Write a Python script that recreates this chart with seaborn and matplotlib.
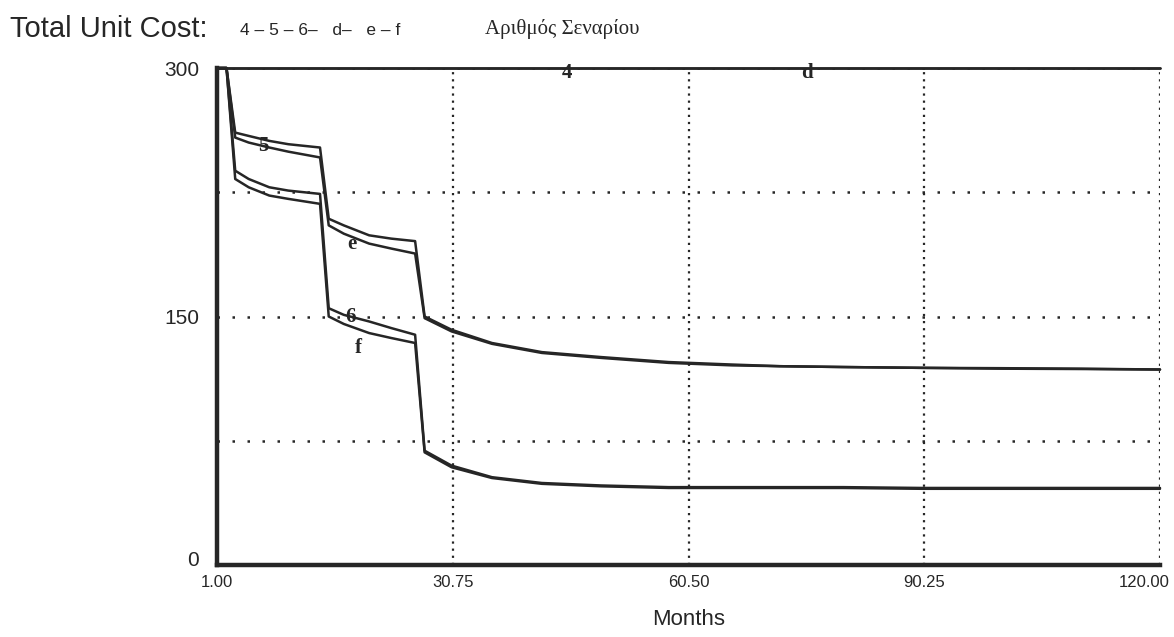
import numpy as np
import pandas as pd
import matplotlib
matplotlib.use("Agg")
import matplotlib.pyplot as plt
import matplotlib.transforms as mtransforms
import seaborn as sns

# ---- data ----
months = [1, 2.2, 3.3, 5, 7.6, 10, 14.0, 15.1, 17, 20.2, 23, 26.0, 27.2, 30.6,
          35.7, 42, 47, 49.5, 58, 66, 72, 80, 90, 100, 110, 120]

s4 = [300] * len(months)
sd = [300] * len(months)
s5 = [300, 300, 261, 259, 256, 254, 252, 209, 205, 199, 197, 195.5, 150, 142,
      134, 128.5, 126.5, 125.5, 122.5, 121, 120, 119.5, 119, 118.8, 118.5, 118]
se = [300, 300, 258, 255, 252, 249.5, 246, 205, 200, 194, 191, 188, 149, 141,
      133.5, 128, 126, 125, 122, 120.5, 120, 119.5, 119, 118.5, 118.3, 118]
s6 = [300, 300, 238, 233, 228, 226, 224, 155, 151, 147, 143, 139, 69, 60,
      53, 49.5, 48.5, 48, 47, 47, 47, 47, 46.5, 46.5, 46.5, 46.5]
sf = [300, 300, 233, 228, 223, 221, 218, 150, 145.5, 140, 137, 134, 68, 59,
      52.5, 49, 48, 47.5, 46.5, 46.5, 46.5, 46.5, 46, 46, 46, 46]

scenarios = ["4", "5", "6", "d", "e", "f"]
series = {"4": s4, "5": s5, "6": s6, "d": sd, "e": se, "f": sf}

x_ticks = [1.00, 30.75, 60.50, 90.25, 120.00]
x_tick_labels = ["1.00", "30.75", "60.50", "90.25", "120.00"]
y_ticks = [0, 75, 150, 225, 300]
y_tick_labels = ["0", "", "150", "", "300"]

# line label positions (month, value) as seen on the chart
line_labels = {"4": (45.1, 297), "d": (75.4, 297), "5": (6.9, 253),
               "e": (18.0, 194), "6": (17.8, 150), "f": (18.8, 131)}

rows = []
for s in scenarios:
    for m, v in zip(months, series[s]):
        rows.append({"Month": m, "Cost": v, "Scenario": s})
df = pd.DataFrame(rows)

# ---- style ----
sns.set_style("white")
plt.rcParams["font.family"] = ["Liberation Sans", "DejaVu Sans"]
ink = "#262626"

fig = plt.figure(figsize=(11.74, 6.37), dpi=100)
W, H = 1174, 637
ax = fig.add_axes([217 / W, 1 - 565 / H, (1160 - 217) / W, (565 - 68) / H])

sns.lineplot(data=df, x="Month", y="Cost", hue="Scenario",
             palette={s: ink for s in scenarios}, legend=False,
             estimator=None, sort=False, linewidth=1.8, ax=ax)
for ln in ax.lines:
    ln.set_clip_on(False)
    ln.set_zorder(3)

ax.set_xlim(1, 120)
ax.set_ylim(0, 300)
ax.set_xticks(x_ticks)
ax.set_xticklabels(x_tick_labels, fontsize=12, color=ink)
ax.set_yticks(y_ticks)
ax.set_yticklabels(y_tick_labels, fontsize=15, color=ink)
ax.tick_params(axis="y", direction="out", length=4, width=3, color=ink, pad=9)
ax.tick_params(axis="x", direction="out", length=3, width=2, color=ink, pad=4)

# last x label sits just inside the right edge, as in the reference
last = ax.get_xticklabels()[-1]
last.set_horizontalalignment("right")
last.set_transform(last.get_transform() +
                   mtransforms.ScaledTranslation(10 / 100, 0, fig.dpi_scale_trans))
# the "0" label sits a little above the axis
zero = ax.get_yticklabels()[0]
zero.set_transform(zero.get_transform() +
                   mtransforms.ScaledTranslation(0, 7 / 100, fig.dpi_scale_trans))

ax.set_xlabel("Months", fontsize=16, color=ink, labelpad=14)
ax.set_ylabel("")

ax.xaxis.grid(True, linestyle=(0, (1, 2.2)), linewidth=1.6, color=ink)
ax.yaxis.grid(True, linestyle=(0, (1, 5)), linewidth=1.8, color=ink)
ax.set_axisbelow(True)

for side in ["top", "right"]:
    ax.spines[side].set_visible(False)
for side in ["left", "bottom"]:
    ax.spines[side].set_linewidth(3.2)
    ax.spines[side].set_color(ink)
    ax.spines[side].set_zorder(4)

for name, (mx, my) in line_labels.items():
    ax.text(mx, my, name, family=["Liberation Serif", "DejaVu Serif"],
            fontsize=15, fontweight="bold", color=ink, ha="center", va="center",
            zorder=5, clip_on=False)

# ---- header texts ----
fig.text(10 / W, 1 - 37 / H, "Total Unit Cost:", fontsize=21, color=ink,
         ha="left", va="baseline")
fig.text(240 / W, 1 - 35 / H, "4 – 5 – 6–   d–   e – f", fontsize=12.5,
         color=ink, ha="left", va="baseline")
fig.text(485 / W, 1 - 34 / H, "Αριθμός Σεναρίου",
         family=["Liberation Serif", "DejaVu Serif"], fontsize=15,
         color=ink, ha="left", va="baseline")

fig.savefig("out.png", dpi=100, facecolor="white")
